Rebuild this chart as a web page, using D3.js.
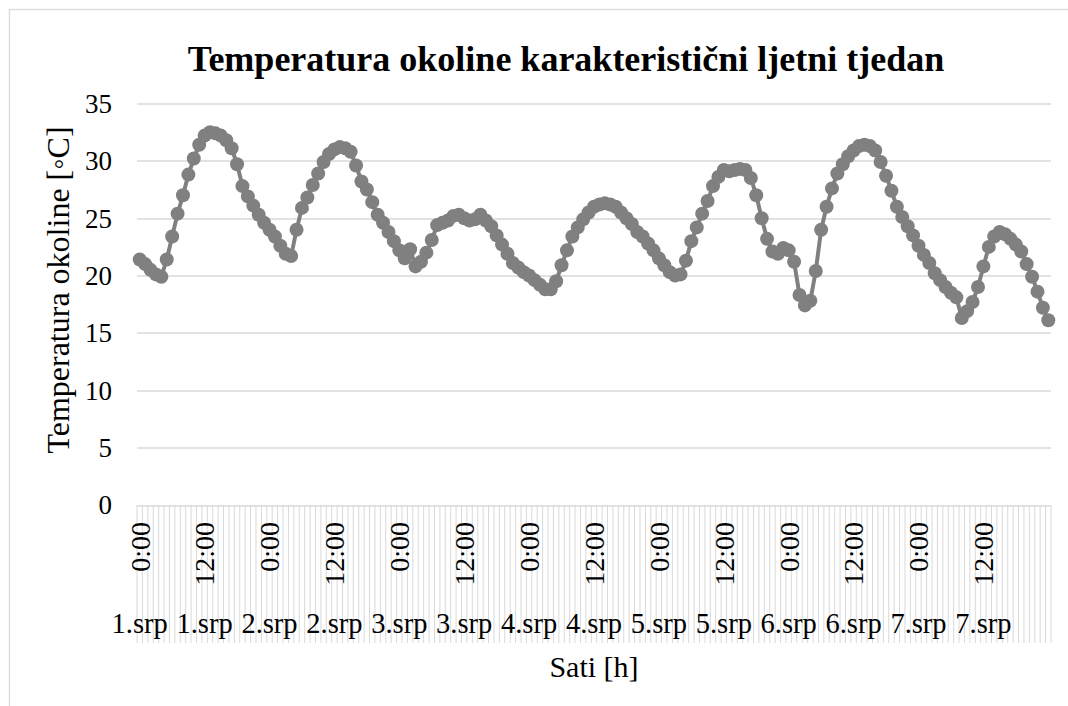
<!DOCTYPE html>
<html>
<head>
<meta charset="utf-8">
<script src="https://cdn.jsdelivr.net/npm/d3@7"></script>
<style>
  body { margin: 0; background: #fff; }
  text { font-family: "Liberation Serif", "Times New Roman", serif; fill: #000; }
</style>
</head>
<body>
<div id="chart"></div>
<script>
// hourly ambient temperature, 1.srp 0:00 .. 7.srp 23:00
var temps = [
  21.4, 21.0, 20.5, 20.1, 19.9, 21.4, 23.4, 25.4, 27.0, 28.8, 30.2, 31.4,
  32.2, 32.5, 32.4, 32.2, 31.8, 31.1, 29.7, 27.8, 26.9, 26.1, 25.3, 24.6,
  24.0, 23.4, 22.6, 21.9, 21.7, 24.0, 25.9, 26.8, 27.9, 28.9, 29.9, 30.6,
  31.0, 31.2, 31.1, 30.8, 29.6, 28.2, 27.5, 26.4, 25.3, 24.6, 23.8, 23.0,
  22.2, 21.5, 22.3, 20.8, 21.2, 22.0, 23.1, 24.4, 24.6, 24.8, 25.2, 25.3,
  25.0, 24.8, 24.9, 25.3, 24.8, 24.3, 23.5, 22.7, 21.9, 21.1, 20.7, 20.3,
  20.0, 19.6, 19.2, 18.8, 18.8, 19.5, 20.9, 22.2, 23.4, 24.2, 24.9, 25.5,
  26.0, 26.2, 26.3, 26.2, 26.0, 25.5, 25.0, 24.5, 23.8, 23.4, 22.8, 22.2,
  21.5, 20.9, 20.3, 20.0, 20.1, 21.3, 23.0, 24.2, 25.4, 26.5, 27.8, 28.6,
  29.2, 29.1, 29.2, 29.3, 29.2, 28.5, 27.0, 25.0, 23.2, 22.1, 21.9, 22.4,
  22.2, 21.2, 18.3, 17.4, 17.8, 20.4, 24.0, 26.0, 27.6, 28.9, 29.7, 30.4,
  30.9, 31.3, 31.4, 31.3, 30.9, 29.9, 28.7, 27.4, 26.0, 25.1, 24.3, 23.5,
  22.6, 21.8, 21.1, 20.2, 19.6, 19.0, 18.5, 18.1, 16.3, 16.9, 17.7, 19.0,
  20.8, 22.5, 23.4, 23.8, 23.6, 23.2, 22.7, 22.1, 21.0, 19.9, 18.6, 17.2,
  16.1
];

// labels shown every 12 hours
var timeLabels = ["0:00", "12:00", "0:00", "12:00", "0:00", "12:00", "0:00",
                  "12:00", "0:00", "12:00", "0:00", "12:00", "0:00", "12:00"];
var dayLabels = ["1.srp", "1.srp", "2.srp", "2.srp", "3.srp", "3.srp", "4.srp",
                 "4.srp", "5.srp", "5.srp", "6.srp", "6.srp", "7.srp", "7.srp"];
var yTicks = [0, 5, 10, 15, 20, 25, 30, 35];

var W = 1068, H = 706;
var margin = {top: 103.5, right: 17, bottom: 201, left: 137},
    width = W - margin.left - margin.right,
    height = H - margin.top - margin.bottom;

var root = d3.select("#chart")
  .append("svg")
    .attr("width", W)
    .attr("height", H);

// chart border
root.append("rect")
  .attr("x", 9.5).attr("y", 9.5)
  .attr("width", 1080).attr("height", 720)
  .style("fill", "none")
  .style("stroke", "#d9d9d9")
  .style("stroke-width", 1.3);

var svg = root.append("g")
  .attr("transform", "translate(" + margin.left + "," + margin.top + ")");

// X scale: one band per hour
var x = d3.scaleBand()
  .domain(d3.range(temps.length))
  .range([0, width])
  .padding(0);
var bw = x.bandwidth();

var y = d3.scaleLinear()
  .domain([0, 35])
  .range([height, 0]);

// gridlines
svg.append("g")
  .selectAll("line")
  .data(yTicks)
  .enter()
  .append("line")
    .attr("x1", 0)
    .attr("x2", width)
    .attr("y1", function(d) { return Math.round(y(d)) + 0.5; })
    .attr("y2", function(d) { return Math.round(y(d)) + 0.5; })
    .style("stroke", "#d9d9d9")
    .style("stroke-width", 1.5);

// Y tick labels
svg.append("g")
  .selectAll("text")
  .data(yTicks)
  .enter()
  .append("text")
    .attr("x", -25)
    .attr("y", function(d) { return y(d); })
    .attr("dy", "0.35em")
    .attr("text-anchor", "end")
    .style("font-size", "27px")
    .text(function(d) { return d; });

// category tick marks below the axis
var bounds = x.domain().map(function(d) { return x(d); }).concat([width]);
svg.append("g")
  .selectAll("line")
  .data(bounds)
  .enter()
  .append("line")
    .attr("x1", function(d) { return d; })
    .attr("x2", function(d) { return d; })
    .attr("y1", height)
    .attr("y2", height + 138)
    .style("stroke", "#d9d9d9")
    .style("stroke-width", 1);

// hour labels (rotated) and day labels, every 12 hours
var labelIdx = timeLabels.map(function(d, i) { return i * 12; });

svg.append("g")
  .selectAll("text")
  .data(labelIdx)
  .enter()
  .append("text")
    .attr("transform", function(d) {
      return "translate(" + (x(d) + bw / 2) + "," + (height + 17) + ")rotate(-90)";
    })
    .attr("dy", "0.35em")
    .attr("text-anchor", "end")
    .style("font-size", "28px")
    .text(function(d, i) { return timeLabels[i]; });

svg.append("g")
  .selectAll("text")
  .data(labelIdx)
  .enter()
  .append("text")
    .attr("x", function(d) { return x(d) + bw / 2; })
    .attr("y", height + 128)
    .attr("text-anchor", "middle")
    .style("font-size", "28.5px")
    .text(function(d, i) { return dayLabels[i]; });

// line + markers
var line = d3.line()
  .x(function(d, i) { return x(i) + bw / 2; })
  .y(function(d) { return y(d); });

svg.append("path")
  .datum(temps)
  .attr("d", line)
  .style("fill", "none")
  .style("stroke", "#808080")
  .style("stroke-width", 4)
  .style("stroke-linejoin", "round");

svg.append("g")
  .selectAll("circle")
  .data(temps)
  .enter()
  .append("circle")
    .attr("cx", function(d, i) { return x(i) + bw / 2; })
    .attr("cy", function(d) { return y(d); })
    .attr("r", 7)
    .style("fill", "#808080");

// title
root.append("text")
  .attr("x", 566)
  .attr("y", 71)
  .attr("text-anchor", "middle")
  .style("font-size", "36px")
  .style("font-weight", "bold")
  .text("Temperatura okoline karakteristični ljetni tjedan");

// axis titles
root.append("text")
  .attr("transform", "translate(58,290)rotate(-90)")
  .attr("dy", "0.35em")
  .attr("text-anchor", "middle")
  .style("font-size", "32px")
  .text("Temperatura okoline [◦C]");

root.append("text")
  .attr("x", 594)
  .attr("y", 677)
  .attr("text-anchor", "middle")
  .style("font-size", "30px")
  .text("Sati [h]");
</script>
</body>
</html>
